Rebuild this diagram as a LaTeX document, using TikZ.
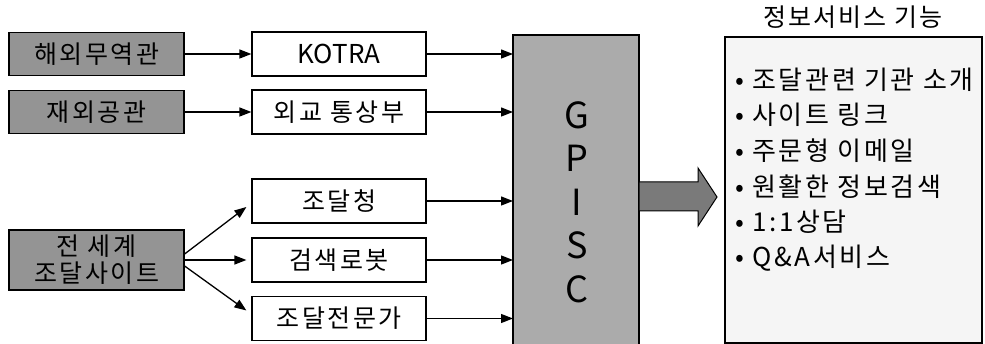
\documentclass[tikz,border=0pt]{standalone}
\usepackage{fontspec}
\setmainfont{Noto Sans CJK KR}
\usetikzlibrary{arrows.meta}
\tikzset{
  srcbox/.style={draw, line width=1.2pt, fill=black!42, minimum width=175pt, minimum height=43pt, inner sep=0pt, align=center,
    font=\fontsize{25pt}{27pt}\selectfont\addfontfeature{LetterSpace=10}},
  midbox/.style={draw, line width=1.2pt, fill=white, minimum width=174pt, minimum height=44pt, inner sep=0pt,
    font=\fontsize{25pt}{25pt}\selectfont\addfontfeature{LetterSpace=10}},
  conn/.style={line width=1.3pt, -{Triangle[length=12pt,width=9pt]}},
  item/.style={anchor=west, inner sep=0pt, font=\fontsize{26pt}{25pt}\selectfont\addfontfeature{LetterSpace=10}}
}

\begin{document}
\begin{tikzpicture}[x=1pt, y=-1pt]
	%%%%% START %%%%%
	\useasboundingbox (0, 0) rectangle (985, 344);
	
	% sources
	\node[srcbox] (muyeok) at (96.5, 54) {해외무역관};
	\node[srcbox] (gonggwan) at (96.5, 112) {재외공관};
	\node[srcbox, minimum height=60pt] (world) at (96.5, 260) {전 세계\\조달사이트};
	
	% channels
	\node[midbox, font=\fontsize{26pt}{25pt}\selectfont] (kotra) at (339, 54) {KOTRA};
	\node[midbox] (oegyo) at (339, 112) {외교 통상부};
	\node[midbox] (jodal) at (339, 201) {조달청};
	\node[midbox] (robot) at (339, 260) {검색로봇};
	\node[midbox] (expert) at (339, 318.5) {조달전문가};
	
	% GPISC
	\draw[line width=1.2pt, fill=black!33] (513, 35) rectangle (639, 346);
	\coordinate (gpisc) at (513, 0);
	\node[align=center, inner sep=0pt, font=\fontsize{36pt}{43.5pt}\selectfont] (gpisclabel) at (577, 202) {G\\P\\I\\S\\C};
	
	\draw[conn] (muyeok) -- (kotra);
	\draw[conn] (gonggwan) -- (oegyo);
	\draw[conn] ([yshift=6pt]world.east) -- ([xshift=-5pt, yshift=-6pt]jodal.west);
	\draw[conn] (world.east) -- ([xshift=-5pt]robot.west);
	\draw[conn] ([yshift=-6pt]world.east) -- ([xshift=-5pt, yshift=8pt]expert.west);
	
	\draw[conn] (kotra) -- (kotra -| gpisc);
	\draw[conn] (oegyo) -- (oegyo -| gpisc);
	\draw[conn] (jodal) -- (jodal -| gpisc);
	\draw[conn] (robot) -- (robot -| gpisc);
	\draw[conn] (expert) -- (expert -| gpisc);
	
	% big arrow
	\draw[line width=1pt, fill=black!52] (639, 182) -- (698, 182) -- (698, 168) -- (717, 197) -- (698, 226) -- (698, 211) -- (639, 211) -- cycle;
	
	% services
	\node[font=\fontsize{25pt}{25pt}\selectfont\addfontfeature{LetterSpace=8}] (title) at (853, 17) {정보서비스 기능};
	\draw[line width=1.2pt, fill=black!4] (725, 37) rectangle (982, 343);
	\node[item] (s1) at (735, 80) {• 조달관련 기관 소개};
	\node[item] (s2) at (735, 115) {• 사이트 링크};
	\node[item] (s3) at (735, 151) {• 주문형 이메일};
	\node[item] (s4) at (735, 187) {• 원활한 정보검색};
	\node[item] (s5) at (735, 222) {• 1:1상담};
	\node[item] (s6) at (735, 258) {• Q\&A서비스};
	
	%%%%% END %%%%%
\end{tikzpicture}
\end{document}
